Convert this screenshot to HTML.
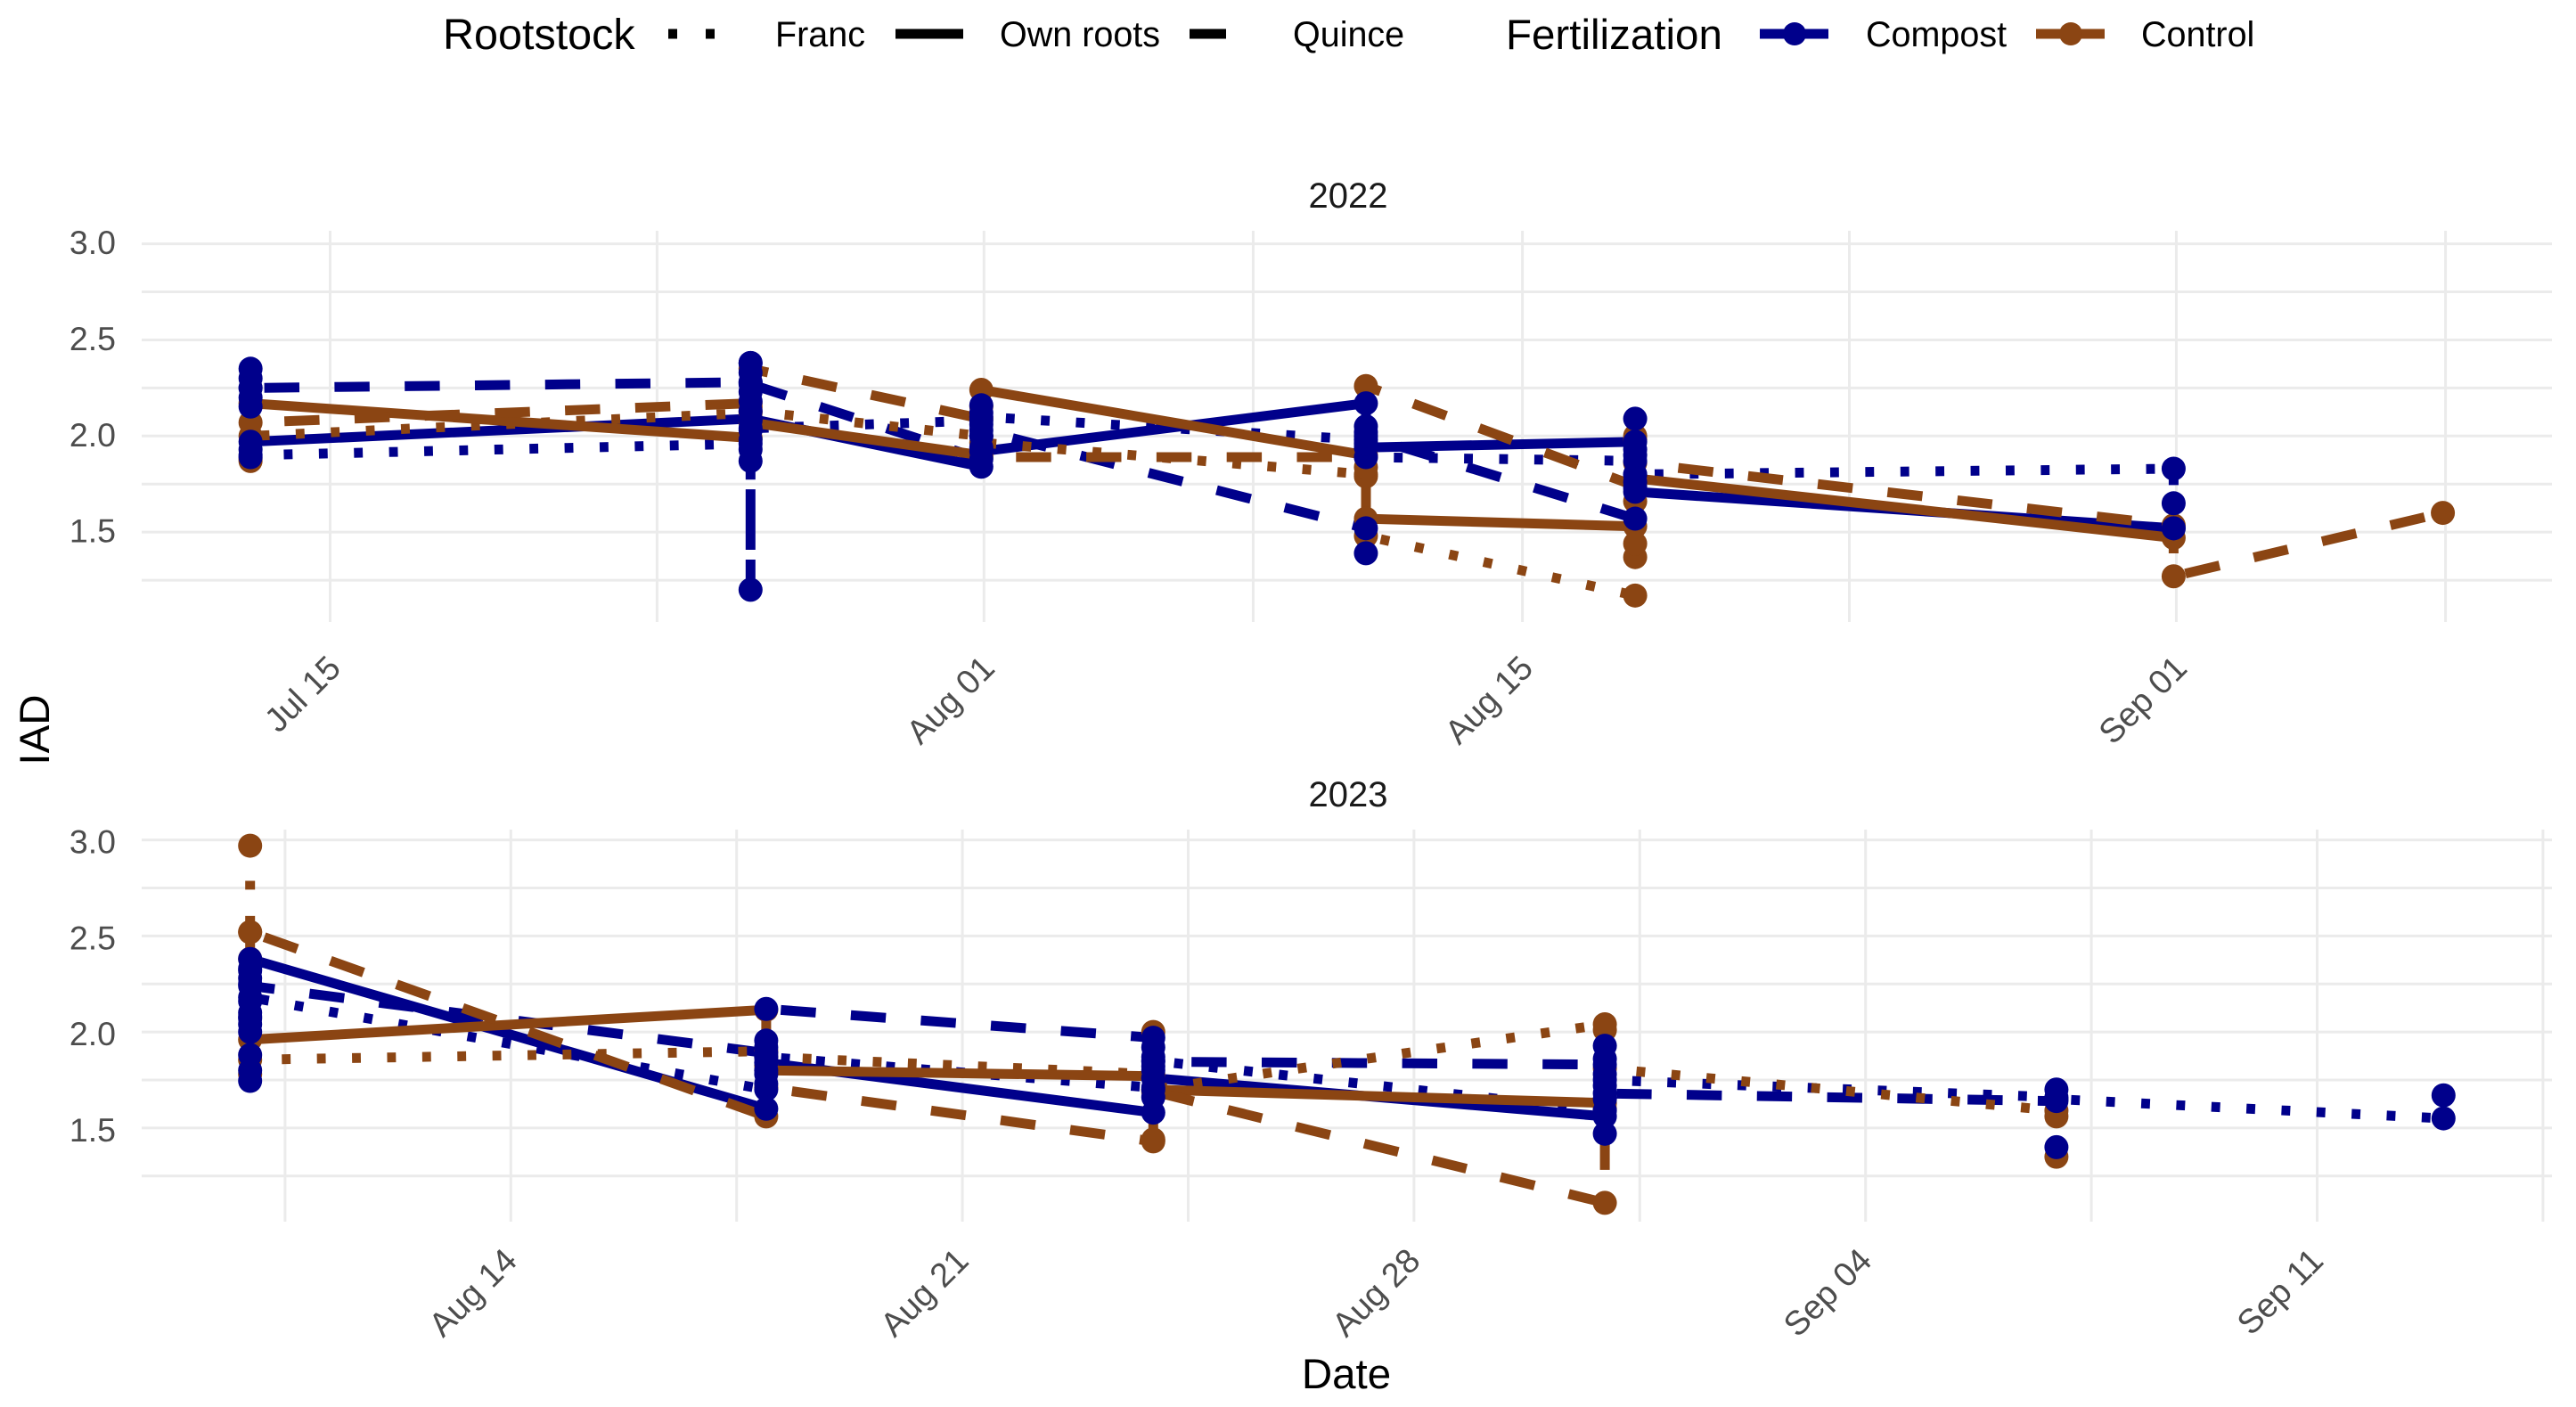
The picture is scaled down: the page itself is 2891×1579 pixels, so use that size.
<!DOCTYPE html>
<html lang="en">
<head>
<meta charset="utf-8">
<title>IAD by date, rootstock and fertilization</title>
<style>
html,body{margin:0;padding:0;background:#fff;}
svg{display:block;font-family:"Liberation Sans",sans-serif;}
</style>
</head>
<body>
<svg id="chart" xmlns="http://www.w3.org/2000/svg" width="2891" height="1579" viewBox="0 0 2891 1579">
  <rect x="0" y="0" width="2891" height="1579" fill="#ffffff"/>

  <g>
    <text x="497" y="55" font-size="48.5" fill="#000">Rootstock</text>
    <line x1="750" y1="38" x2="802" y2="38" stroke="#000" stroke-width="11" stroke-dasharray="10 32"/>
    <text x="870" y="52" font-size="39.5" fill="#000">Franc</text>
    <line x1="1005" y1="38" x2="1081" y2="38" stroke="#000" stroke-width="11"/>
    <text x="1122" y="52" font-size="39.5" fill="#000">Own roots</text>
    <line x1="1335" y1="38" x2="1376" y2="38" stroke="#000" stroke-width="11"/>
    <text x="1451" y="52" font-size="39.5" fill="#000">Quince</text>
    <text x="1690" y="55" font-size="47.5" fill="#000">Fertilization</text>
    <line x1="1975" y1="38" x2="2052" y2="38" stroke="#00008B" stroke-width="11"/>
    <circle cx="2014" cy="38" r="13" fill="#00008B"/>
    <text x="2094" y="52" font-size="39.5" fill="#000">Compost</text>
    <line x1="2285" y1="38" x2="2362" y2="38" stroke="#8B4513" stroke-width="11"/>
    <circle cx="2324" cy="38" r="13" fill="#8B4513"/>
    <text x="2403" y="52" font-size="39.5" fill="#000">Control</text>
  </g>

  <text x="1513" y="233" font-size="40" text-anchor="middle" fill="#1a1a1a">2022</text>
  <text x="1513" y="905" font-size="40" text-anchor="middle" fill="#1a1a1a">2023</text>
  <text transform="translate(55,819) rotate(-90)" font-size="47.5" text-anchor="middle" fill="#000">IAD</text>
  <text x="1519" y="1558" font-size="47.5" text-anchor="middle" fill="#000" dx="-8">Date</text>

  <g id="panel-2022"></g>
  <g id="panel-2023"></g>
</svg>

<script>
// Axis breaks (x values are days since the first labelled date of each panel)
const yTicks = [3.0, 2.5, 2.0, 1.5];
const yMinorTicks = [2.75, 2.25, 1.75, 1.25];

const majorDays2022 = [0, 17, 31, 48];
const minorDays2022 = [8.5, 24, 39.5, 55];
const tickLabels2022 = ['Jul 15', 'Aug 01', 'Aug 15', 'Sep 01'];
const majorDays2023 = [0, 7, 14, 21, 28];
const minorDays2023 = [-3.5, 3.5, 10.5, 17.5, 24.5, 31.5];
const tickLabels2023 = ['Aug 14', 'Aug 21', 'Aug 28', 'Sep 04', 'Sep 11'];

// Sampling dates: Jul 13, Jul 26, Aug 1, Aug 11, Aug 18, Sep 1, Sep 8
const sampleDays2022 = [-2, 11, 17, 27, 34, 48, 55];
// Sampling dates: Aug 10, Aug 18, Aug 24, Aug 31, Sep 7, Sep 13
const sampleDays2023 = [-4, 4, 10, 17, 24, 30];

// One list of readings per sampling date, in the order the line visits them
const compostFranc2022 = [[1.89,1.90],[1.96,2.04],[2.08,2.0,2.10],[1.98,2.02,1.89],[1.87,1.80,1.76,1.73,1.93,1.80],[1.83,1.65,1.52],[]];
const compostOwn2022 = [[1.93,1.97],[2.09],[1.84,1.92],[2.17,1.94],[1.97,1.90,1.71],[1.52],[]];
const compostQuince2022 = [[2.35,2.30,2.25,2.2,2.153,2.25],[2.28,2.38,2.33,2.28,2.23,2.18,2.13,2.08,2.03,1.98,1.93,1.87,1.20,2.38,2.27],[1.88,1.94,2.0,2.06,2.12,2.16,2.03],[1.52,1.39,1.96,2.05,2.0],[1.57,2.09],[],[]];
const controlFranc2022 = [[1.87,2.0],[2.12,2.13],[2.0,1.965],[1.80,1.48],[1.17],[],[]];
const controlOwn2022 = [[2.17],[1.99,2.07],[1.90,2.24],[1.90,1.79,1.57],[1.53,2.0,1.78],[1.47],[]];
const controlQuince2022 = [[1.881,2.07],[2.17,2.15,2.35],[2.09,2.154,1.89],[1.89,1.838,2.26],[1.74,1.37,1.44,1.66,1.98,1.86],[1.535,1.27],[1.60]];

const compostFranc2023 = [[1.745,1.80,1.88,2.07,2.04,2.10,2.18],[1.70,1.73,1.80,1.87],[1.71,1.80,1.85],[1.59,1.65,1.75],[1.66,1.70,1.65],[1.55,1.67]];
const compostOwn2023 = [[2.28,2.32,2.38],[1.60,1.84],[1.58,1.66,1.76],[1.56,1.47],[],[]];
const compostQuince2023 = [[2.0,2.08,2.16,2.25,2.33,2.24],[1.89,1.78,1.92,1.955,2.12],[1.97,1.92,1.87,1.82,1.76,1.70,1.845],[1.83,1.928,1.86,1.78,1.72,1.68],[1.64,1.40],[]];
const controlFranc2023 = [[2.97,1.855],[1.90,1.87],[1.78,2.0,1.70],[2.04,2.01,1.81],[1.59,1.56,1.35],[]];
const controlOwn2023 = [[1.96],[2.115,1.80],[1.77,1.70],[1.63],[],[]];
const controlQuince2023 = [[1.78,2.52,2.381,2.52],[1.56,1.825,1.71],[1.43,1.44,1.69],[1.11,1.60],[],[]];

const NS = 'http://www.w3.org/2000/svg';
const NAVY = '#00008B';
const BROWN = '#8B4513';
const DOT = '9.85 29.55';
const DASH = '39.4 39.4';
const LEFT = 159;
const RIGHT = 2864;

function make(tag, attrs) {
  const el = document.createElementNS(NS, tag);
  for (const k in attrs) el.setAttribute(k, attrs[k]);
  return el;
}

function linearScale(d0, r0, perUnit) {
  return v => r0 + (v - d0) * perUnit;
}

function drawGrid(parent, xScale, yScale, top, bottom, majorDays, minorDays) {
  yTicks.concat(yMinorTicks).forEach(v => {
    const line = make('line', {x1: LEFT, x2: RIGHT, y1: yScale(v), y2: yScale(v), stroke: '#EBEBEB', 'stroke-width': 3});
    
    
    parent.appendChild(line);
  });
  majorDays.concat(minorDays).forEach(d => {
    const line = make('line', {x1: xScale(d), x2: xScale(d), y1: top, y2: bottom, stroke: '#EBEBEB', 'stroke-width': 3});
    
    
    parent.appendChild(line);
  });
}

function drawTicks(parent, xScale, yScale, majorDays, labels, yLabelShift, xLabelShift, xLabelY) {
  yTicks.forEach(v => {
    const t = make('text', {x: 130, y: yScale(v) + yLabelShift, 'font-size': 37.5, 'text-anchor': 'end', fill: '#4D4D4D'});
    t.textContent = v.toFixed(1);
    
    
    parent.appendChild(t);
  });
  majorDays.forEach((d, i) => {
    const px = xScale(d) + xLabelShift;
    const t = make('text', {transform: 'translate(' + px + ',' + xLabelY + ') rotate(-45)', 'font-size': 38, 'text-anchor': 'end', fill: '#4D4D4D'});
    t.textContent = labels[i];
    
    
    parent.appendChild(t);
  });
}

function seriesPoints(days, columns, xScale, yScale) {
  const pts = [];
  columns.forEach((vals, i) => {
    vals.forEach(v => pts.push([xScale(days[i]) - 3, yScale(v)]));
  });
  return pts;
}

function drawLine(parent, pts, color, dash) {
  const attrs = {
    points: pts.map(p => p[0].toFixed(1) + ',' + p[1].toFixed(1)).join(' '),
    fill: 'none', stroke: color, 'stroke-width': 11, 'stroke-linejoin': 'round', 'stroke-linecap': 'butt'
  };
  if (dash) attrs['stroke-dasharray'] = dash;
  const line = make('polyline', attrs);
  
  
  parent.appendChild(line);
}

function drawPoints(parent, pts, color) {
  pts.forEach(p => {
    const c = make('circle', {cx: p[0], cy: p[1], r: 13.5, fill: color});
    
    
    parent.appendChild(c);
  });
}

function drawPanel(parent, days, xScale, yScale, compost, control) {
  const styles = [DOT, null, DASH];
  const navy = compost.map(s => seriesPoints(days, s, xScale, yScale));
  const brown = control.map(s => seriesPoints(days, s, xScale, yScale));
  navy.forEach((pts, i) => drawLine(parent, pts, NAVY, styles[i]));
  brown.forEach((pts, i) => drawLine(parent, pts, BROWN, styles[i]));
  brown.forEach(pts => drawPoints(parent, pts, BROWN));
  navy.forEach(pts => drawPoints(parent, pts, NAVY));
}

const x2022 = linearScale(0, 370.5, 43.165);
const y2022 = linearScale(3, 273.6, -215.7);
const x2023 = linearScale(0, 573.3, 72.4);
const y2023 = linearScale(3, 942.6, -215.5);

const panel2022 = document.getElementById('panel-2022');
drawGrid(panel2022, x2022, y2022, 259, 698, majorDays2022, minorDays2022);
drawTicks(panel2022, x2022, y2022, majorDays2022, tickLabels2022, 11.5, 14, 752);
drawPanel(panel2022, sampleDays2022, x2022, y2022,
  [compostFranc2022, compostOwn2022, compostQuince2022],
  [controlFranc2022, controlOwn2022, controlQuince2022]);

const panel2023 = document.getElementById('panel-2023');
drawGrid(panel2023, x2023, y2023, 931, 1371, majorDays2023, minorDays2023);
drawTicks(panel2023, x2023, y2023, majorDays2023, tickLabels2023, 15, 9, 1417);
drawPanel(panel2023, sampleDays2023, x2023, y2023,
  [compostFranc2023, compostOwn2023, compostQuince2023],
  [controlFranc2023, controlOwn2023, controlQuince2023]);
</script>
</body>
</html>
